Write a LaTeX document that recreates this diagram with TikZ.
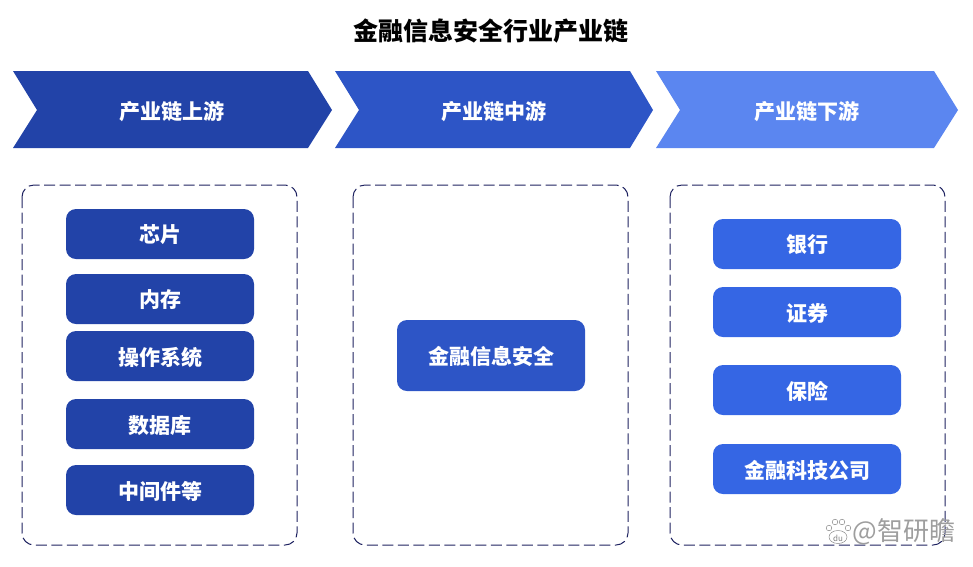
\documentclass[tikz,border=0pt]{standalone}
\usepackage{fontspec}
\setmainfont{Noto Sans CJK SC}
\definecolor{upblue}{HTML}{2243A8}
\definecolor{midblue}{HTML}{2D55C6}
\definecolor{lowblue}{HTML}{5B86F0}
\definecolor{itemblue}{HTML}{3566E4}
\definecolor{dashblue}{HTML}{1E2260}
\tikzset{
  headtext/.style={text=white, font=\fontsize{21pt}{24pt}\selectfont\bfseries},
  itembox/.style={rectangle, rounded corners=10pt, minimum width=188pt, minimum height=50pt,
    inner sep=0pt, text=white, font=\fontsize{21pt}{24pt}\selectfont\bfseries},
  framebox/.style={draw=dashblue, line width=1pt, dash pattern=on 11pt off 4.5pt, rounded corners=12pt}
}
\begin{document}
\begin{tikzpicture}[x=1pt, y=-1pt]
\useasboundingbox (0, 0) rectangle (973, 566);
\node[font=\fontsize{25pt}{30pt}\selectfont\bfseries] (title) at (490.5, 31) {金融信息安全行业产业链};
\fill[upblue] (13, 71) -- (308, 71) -- (332, 110) -- (308, 148) -- (13, 148) -- (37, 110) -- cycle;
\fill[midblue] (335, 71) -- (630, 71) -- (653, 110) -- (630, 148) -- (335, 148) -- (359, 110) -- cycle;
\fill[lowblue] (656, 71) -- (934, 71) -- (958, 110) -- (934, 148) -- (656, 148) -- (680, 110) -- cycle;
\path (172, 111.5) node[headtext] (up) {产业链上游}
      (494, 111.5) node[headtext] (mid) {产业链中游}
      (807, 111.5) node[headtext] (low) {产业链下游};
\draw[framebox] (22, 185) rectangle (297, 545);
\draw[framebox] (353, 185) rectangle (628, 545);
\draw[framebox] (670, 185) rectangle (945, 545);
\path (160, 234) node[itembox, fill=upblue, text depth=-1pt] (chip) {芯片}
      (160, 299) node[itembox, fill=upblue, text depth=-1pt] (memory) {内存}
      (160, 356) node[itembox, fill=upblue, text depth=-1pt] (os) {操作系统}
      (160, 424) node[itembox, fill=upblue, text depth=-1pt] (database) {数据库}
      (160, 490) node[itembox, fill=upblue, text depth=-1pt] (middleware) {中间件等};
\node[itembox, fill=midblue, minimum height=71pt, text depth=-1pt] (infosec) at (491, 355.5) {金融信息安全};
\path (807, 244) node[itembox, fill=itemblue, text depth=-1pt] (bank) {银行}
      (807, 312) node[itembox, fill=itemblue, text depth=-1pt] (stock) {证券}
      (807, 390) node[itembox, fill=itemblue, text depth=-1pt] (insurance) {保险}
      (807, 469) node[itembox, fill=itemblue, text depth=-1pt] (fintech) {金融科技公司};
% watermark
\filldraw[draw=black!45, fill=white, line width=0.5pt] (838, 537) circle[x radius=9pt, y radius=6.5pt]
      (829, 528) circle (2.8pt) (835, 522) circle (2.8pt) (842, 522) circle (2.8pt) (848, 528) circle (2.8pt);
\node[text=black!50, font=\fontsize{8pt}{8pt}\selectfont] (du) at (838, 538) {du};
\node[text=black!38, font=\fontsize{26pt}{30pt}\selectfont, inner sep=0pt] (mark) at (904, 532) {@智研瞻};
\end{tikzpicture}
\end{document}
